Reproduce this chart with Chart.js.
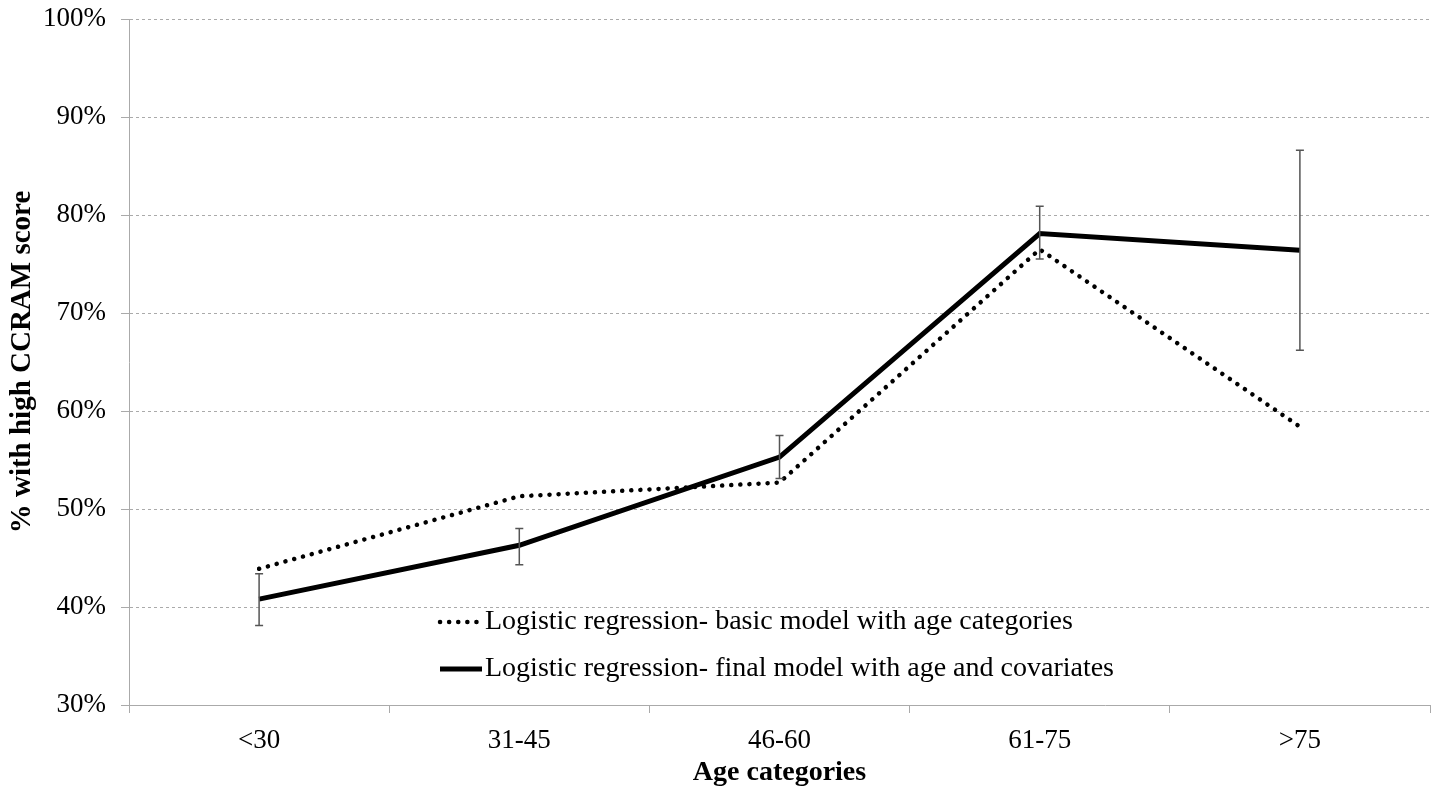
<!DOCTYPE html>
<html><head><meta charset="utf-8">
<script src="https://cdn.jsdelivr.net/npm/chart.js@4/dist/chart.umd.min.js"></script>
<style>html,body{margin:0;padding:0;background:#fff}#wrap{width:1441px;height:790px}</style>
</head><body><div id="wrap"><canvas id="c" width="1441" height="790"></canvas></div>
<script>
const categories = ['<30', '31-45', '46-60', '61-75', '>75'];
const basicModel = [43.9, 51.3, 52.7, 76.5, 58.4];
const finalModel = [40.8, 46.3, 55.3, 78.1, 76.4];
const finalLower = [38.1, 44.3, 53.1, 75.5, 66.2];
const finalUpper = [43.4, 48.0, 57.5, 80.9, 86.6];
const yTickValues = [30, 40, 50, 60, 70, 80, 90, 100];
const seriesLabels = ['Logistic regression- basic model with age categories', 'Logistic regression- final model with age and covariates'];
const xTitle = 'Age categories';
const yTitle = '% with high CCRAM score';

const SERIF = "'Liberation Serif','Times New Roman',serif";
const DOT_DASH = [0.1, 9];

const errorBars = {
  id: 'errorBars',
  afterDatasetsDraw(chart) {
    const {ctx, scales: {x, y}} = chart;
    ctx.save();
    ctx.strokeStyle = '#555';
    ctx.lineWidth = 1.5;
    finalModel.forEach((v, i) => {
      const px = x.getPixelForValue(i);
      const lo = y.getPixelForValue(finalLower[i]);
      const hi = y.getPixelForValue(finalUpper[i]);
      ctx.beginPath();
      ctx.moveTo(px, lo); ctx.lineTo(px, hi);
      ctx.moveTo(px - 4, lo); ctx.lineTo(px + 4, lo);
      ctx.moveTo(px - 4, hi); ctx.lineTo(px + 4, hi);
      ctx.stroke();
    });
    ctx.restore();
  }
};

const innerLegend = {
  id: 'innerLegend',
  afterDraw(chart) {
    const ctx = chart.ctx;
    const x0 = 440, x1 = 482, rows = [622, 669];
    ctx.save();
    chart.data.datasets.forEach((ds, i) => {
      const yy = rows[i];
      ctx.beginPath();
      ctx.strokeStyle = '#000';
      ctx.lineWidth = ds.borderWidth;
      ctx.lineCap = ds.borderCapStyle || 'butt';
      ctx.setLineDash(ds.borderDash || []);
      ctx.moveTo(x0, yy); ctx.lineTo(x1, yy);
      ctx.stroke();
      ctx.setLineDash([]);
      ctx.fillStyle = '#000';
      ctx.font = '28px ' + SERIF;
      ctx.textBaseline = 'middle';
      ctx.textAlign = 'left';
      ctx.fillText(ds.label, x1 + 3, yy);
    });
    ctx.restore();
  }
};

new Chart(document.getElementById('c'), {
  type: 'line',
  data: {
    labels: categories,
    datasets: [
      { label: seriesLabels[0], data: basicModel, borderColor: '#000', borderWidth: 4.5,
        borderDash: DOT_DASH, borderCapStyle: 'round', pointRadius: 0, tension: 0, fill: false },
      { label: seriesLabels[1], data: finalModel, borderColor: '#000', borderWidth: 5,
        pointRadius: 0, tension: 0, fill: false }
    ]
  },
  options: {
    responsive: false,
    devicePixelRatio: 1,
    animation: false,
    layout: { padding: { left: 0, right: 11, top: 19, bottom: 0 } },
    plugins: { legend: { display: false }, tooltip: { enabled: false } },
    scales: {
      x: {
        offset: true,
        grid: { display: true, drawOnChartArea: false, offset: true, tickLength: 8, color: '#aaa', tickColor: '#aaa' },
        border: { color: '#aaa', width: 1 },
        ticks: { font: { family: SERIF, size: 27 }, color: '#000', padding: 12, maxRotation: 0 },
        title: { display: true, text: xTitle, font: { family: SERIF, size: 28, weight: 'bold' }, color: '#000', padding: { top: 0, bottom: 0 } },
        afterFit(scale) { scale.height = 85; scale.paddingLeft = 0; scale.paddingRight = 0; }
      },
      y: {
        min: 30, max: 100,
        afterBuildTicks(scale) { scale.ticks = yTickValues.map(v => ({ value: v })); },
        grid: { color: '#aaa', tickColor: '#aaa', tickLength: 8, lineWidth: 1 },
        border: { color: '#aaa', width: 1, dash: [3, 3] },
        ticks: { font: { family: SERIF, size: 27 }, color: '#000', padding: 15, callback: v => v + '%' },
        title: { display: true, text: yTitle, font: { family: SERIF, size: 29, weight: 'bold' }, color: '#000', padding: { top: 5, bottom: 0 } },
        afterFit(scale) { scale.width = 129; scale.paddingTop = 0; scale.paddingBottom = 0; }
      }
    }
  },
  plugins: [errorBars, innerLegend]
});
</script>
</body></html>
